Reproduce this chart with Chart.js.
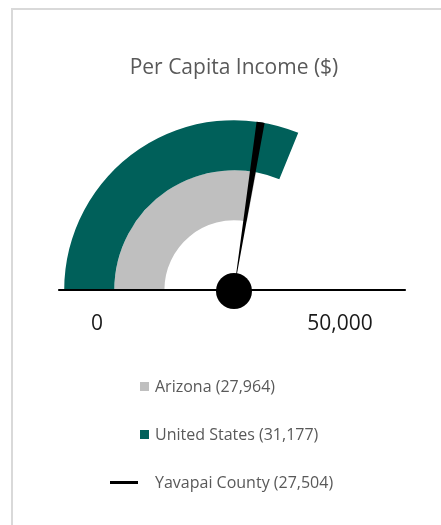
<!DOCTYPE html>
<html>
<head>
<meta charset="utf-8">
<script src="https://cdn.jsdelivr.net/npm/chart.js@4.4.1/dist/chart.umd.min.js"></script>
<style>
    html, body { margin: 0; padding: 0; background: #fff; }
    #wrap { position: relative; width: 441px; height: 525px; overflow: hidden; font-family: "Open Sans", Lato, sans-serif; }
    #frame { position: absolute; left: 11px; top: 8px; right: -5px; bottom: -5px; border-left: 2px solid #d9d9d9; border-top: 2px solid #d9d9d9; }
    canvas { position: absolute; left: 0; top: 0; }
    .row { position: absolute; left: 0; height: 20px; line-height: 20px; font-size: 16px; color: #595959; white-space: nowrap; }
    .row span.txt { position: absolute; left: 155px; top: 0; }
    .mark { position: absolute; }
</style>
</head>
<body>
<div id="wrap">
    <div id="frame"></div>
    <canvas id="gauge" width="441" height="525"></canvas>
    <canvas id="needle" width="441" height="525"></canvas>
    <div id="legend"></div>
</div>
<script>
// datos
const seriesNames = ["Arizona", "United States", "Yavapai County"];
const seriesValues = [27964, 31177, 27504];
const seriesColors = ["#bfbfbf", "#00605a", "#000000"];
const gaugeMax = 50000;
const tickLabels = ["0", "50,000"];

const NEEDLE_HALF = 380;   // medio ancho de la aguja (en unidades del eje)
const titleText = "Per Capita Income ($)";

const fmt = v => v.toLocaleString("en-US");

const sharedLayout = { padding: { left: 63, right: 36, top: 20, bottom: 235 } };
function titleOpts(color) {
    return {
        display: true,
        text: titleText,
        color: color,
        font: { family: "Open Sans", size: 21, weight: "normal", lineHeight: 1.2 },
        padding: { top: 35, bottom: 40 }
    };
}

document.addEventListener("DOMContentLoaded", function () {
    // anillos: primero Estados Unidos (afuera), luego Arizona (adentro)
    new Chart(document.getElementById("gauge").getContext("2d"), {
        type: "doughnut",
        data: {
            labels: ["value", "rest"],
            datasets: [
                {
                    label: seriesNames[1],
                    data: [seriesValues[1], gaugeMax - seriesValues[1]],
                    backgroundColor: [seriesColors[1], "rgba(0,0,0,0)"],
                    borderWidth: 0
                },
                {
                    label: seriesNames[0],
                    data: [seriesValues[0], gaugeMax - seriesValues[0]],
                    backgroundColor: [seriesColors[0], "rgba(0,0,0,0)"],
                    borderWidth: 0
                }
            ]
        },
        options: {
            responsive: false,
            animation: false,
            rotation: -90,
            circumference: 180,
            cutout: "41%",
            layout: sharedLayout,
            plugins: {
                title: titleOpts("#595959"),
                legend: { display: false },
                tooltip: { enabled: false }
            }
        }
    });

    // aguja, linea base, bola y etiquetas
    const needleExtras = {
        id: "needleExtras",
        afterDatasetsDraw(chart) {
            const arc = chart.getDatasetMeta(0).data[0];
            const cx = arc.x, cy = arc.y, R = arc.outerRadius;
            const ctx = chart.ctx;
            ctx.save();
            ctx.strokeStyle = "#000";
            ctx.lineWidth = 2;
            ctx.beginPath();
            ctx.moveTo(cx - R - 6, cy);
            ctx.lineTo(cx + R + 2, cy);
            ctx.stroke();
            ctx.fillStyle = "#000";
            ctx.beginPath();
            ctx.arc(cx, cy + 1, 18, 0, Math.PI * 2);
            ctx.fill();
            ctx.fillStyle = "#1a1a1a";
            ctx.font = "21px 'Open Sans'";
            ctx.textAlign = "center";
            ctx.textBaseline = "middle";
            ctx.fillText(tickLabels[0], cx - 137, cy + 34);
            ctx.fillText(tickLabels[1], cx + 106, cy + 34);
            ctx.restore();
        }
    };

    new Chart(document.getElementById("needle").getContext("2d"), {
        type: "pie",
        data: {
            labels: ["before", "needle", "after"],
            datasets: [{
                label: seriesNames[2],
                data: [seriesValues[2] - NEEDLE_HALF, NEEDLE_HALF * 2, gaugeMax - seriesValues[2] - NEEDLE_HALF],
                backgroundColor: ["rgba(0,0,0,0)", seriesColors[2], "rgba(0,0,0,0)"],
                borderWidth: 0
            }]
        },
        options: {
            responsive: false,
            animation: false,
            rotation: -90,
            circumference: 180,
            layout: sharedLayout,
            plugins: {
                title: titleOpts("rgba(0,0,0,0)"),
                legend: { display: false },
                tooltip: { enabled: false }
            }
        },
        plugins: [needleExtras]
    });

    // leyenda, una fila por serie
    const legend = document.getElementById("legend");
    const rowY = [376, 424, 472];
    seriesNames.forEach((name, i) => {
        const row = document.createElement("div");
        row.className = "row";
        row.style.top = rowY[i] + "px";
        row.style.width = "441px";
        const mark = document.createElement("div");
        mark.className = "mark";
        if (i < 2) {
            mark.style.left = "140px";
            mark.style.top = "6px";
            mark.style.width = "9px";
            mark.style.height = "9px";
        } else {
            mark.style.left = "110px";
            mark.style.top = "9px";
            mark.style.width = "28px";
            mark.style.height = "3px";
        }
        mark.style.background = seriesColors[i];
        const txt = document.createElement("span");
        txt.className = "txt";
        txt.textContent = name + " (" + fmt(seriesValues[i]) + ")";
        row.appendChild(mark);
        row.appendChild(txt);
        legend.appendChild(row);
    });
});
</script>
</body>
</html>
